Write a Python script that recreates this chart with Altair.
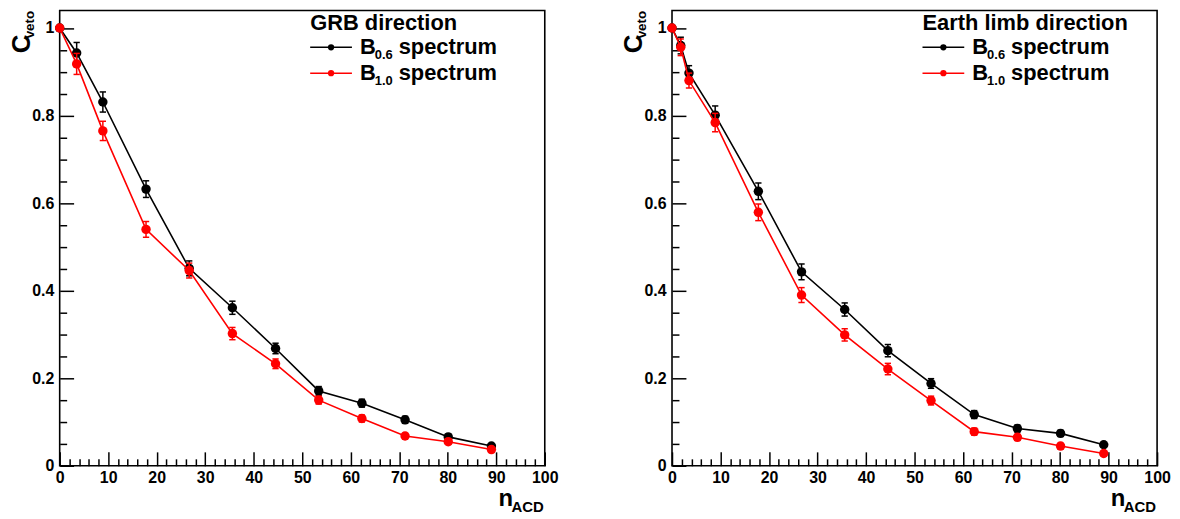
import altair as alt
import pandas as pd

FONT = "Liberation Sans"
BLACK = "#000000"
RED = "#ff0000"

# ---------------- data ----------------
grb_n = [0, 3.5, 8.9, 17.8, 26.7, 35.6, 44.5, 53.4, 62.3, 71.2, 80.1, 89.0]
grb_b06 = [1.0, 0.943, 0.831, 0.632, 0.451, 0.361, 0.268, 0.171, 0.143, 0.105, 0.066, 0.045]
grb_b06_err = [0.0, 0.024, 0.023, 0.019, 0.017, 0.015, 0.012, 0.010, 0.009, 0.008, 0.006, 0.005]
grb_b10 = [1.0, 0.918, 0.765, 0.540, 0.446, 0.302, 0.233, 0.150, 0.108, 0.068, 0.055, 0.037]
grb_b10_err = [0.0, 0.024, 0.022, 0.018, 0.017, 0.014, 0.011, 0.009, 0.008, 0.006, 0.006, 0.004]

limb_n = [0, 1.8, 3.5, 8.9, 17.8, 26.7, 35.6, 44.5, 53.4, 62.3, 71.2, 80.1, 89.0]
limb_b06 = [1.0, 0.960, 0.897, 0.801, 0.627, 0.443, 0.357, 0.263, 0.188, 0.117, 0.085, 0.074, 0.048]
limb_b06_err = [0.0, 0.019, 0.017, 0.021, 0.019, 0.018, 0.015, 0.014, 0.011, 0.009, 0.008, 0.007, 0.005]
limb_b10 = [1.0, 0.956, 0.880, 0.784, 0.579, 0.390, 0.299, 0.221, 0.149, 0.078, 0.065, 0.045, 0.028]
limb_b10_err = [0.0, 0.019, 0.017, 0.021, 0.019, 0.017, 0.014, 0.013, 0.010, 0.008, 0.007, 0.006, 0.004]

headers = ["GRB direction", "Earth limb direction"]
legend_subs = ["0.6", "1.0"]
legend_word = "spectrum"
legend_main = "B"

X_MAJOR = [0, 10, 20, 30, 40, 50, 60, 70, 80, 90, 100]
X_MINOR = [2, 4, 6, 8, 12, 14, 16, 18, 22, 24, 26, 28, 32, 34, 36, 38, 42, 44, 46, 48,
           52, 54, 56, 58, 62, 64, 66, 68, 72, 74, 76, 78, 82, 84, 86, 88, 92, 94, 96, 98]
Y_MAJOR = [0, 0.2, 0.4, 0.6, 0.8, 1.0]
Y_MINOR = [0.05, 0.1, 0.15, 0.25, 0.3, 0.35, 0.45, 0.5, 0.55, 0.65, 0.7, 0.75,
           0.85, 0.9, 0.95]

W, H = 488, 458
XS = alt.Scale(domain=[0, 100], nice=False, zero=False)
YS = alt.Scale(domain=[0, 1.04], nice=False, zero=False)
ONE = pd.DataFrame({"k": [0]})


def major_axis(orient, values, pad, fmt):
    return alt.Axis(orient=orient, values=values, offset=-14, tickSize=14, tickWidth=1.5,
                    tickColor=BLACK, domain=False, grid=False, labelFont=FONT,
                    labelFontWeight="bold", labelFontSize=16, labelColor=BLACK,
                    labelPadding=pad, labelFlush=False, labelOverlap=False,
                    format=fmt, title=None)


def minor_axis(orient, values):
    return alt.Axis(orient=orient, values=values, offset=-7, tickSize=7, tickWidth=1.5,
                    tickColor=BLACK, domain=False, grid=False, labels=False, title=None)


def txt(s, x, y, size, angle=0, align="left"):
    return alt.Chart(ONE).mark_text(
        text=s, font=FONT, fontWeight="bold", fontSize=size, angle=angle,
        align=align, baseline="alphabetic", color=BLACK
    ).encode(x=alt.value(x), y=alt.value(y))


def frame(n, vals, errs):
    return pd.DataFrame({
        "n": n, "c": vals,
        "lo": [v - e for v, e in zip(vals, errs)],
        "hi": [v + e for v, e in zip(vals, errs)],
    })


def series(df, color, with_axes):
    if with_axes:
        xa1 = major_axis("bottom", X_MAJOR, 4, "d")
        ya1 = major_axis("left", Y_MAJOR, 6, "~g")
        xa2, ya2 = minor_axis("bottom", X_MINOR), minor_axis("left", Y_MINOR)
    else:
        xa1 = ya1 = xa2 = ya2 = None
    base = alt.Chart(df)
    line = base.mark_line(color=color, strokeWidth=1.6).encode(
        x=alt.X("n:Q", scale=XS, axis=xa1), y=alt.Y("c:Q", scale=YS, axis=ya1))
    err = base.mark_rule(color=color, strokeWidth=1.5).encode(
        x=alt.X("n:Q", scale=XS, axis=xa2), y=alt.Y("lo:Q", scale=YS, axis=ya2),
        y2=alt.Y2("hi:Q"))
    cap_lo = base.mark_point(shape="M-1,0L1,0", filled=False, size=40, strokeWidth=1.5,
                             color=color, opacity=1).encode(
        x=alt.X("n:Q", scale=XS, axis=None), y=alt.Y("lo:Q", scale=YS, axis=None))
    cap_hi = base.mark_point(shape="M-1,0L1,0", filled=False, size=40, strokeWidth=1.5,
                             color=color, opacity=1).encode(
        x=alt.X("n:Q", scale=XS, axis=None), y=alt.Y("hi:Q", scale=YS, axis=None))
    pts = base.mark_circle(size=90, color=color, opacity=1).encode(
        x=alt.X("n:Q", scale=XS, axis=None), y=alt.Y("c:Q", scale=YS, axis=None))
    return [line, err, cap_lo, cap_hi, pts]


def legend(header):
    L = [txt(header, 252, 20, 22)]
    for i, (color, sub) in enumerate([(BLACK, legend_subs[0]), (RED, legend_subs[1])]):
        yl = 37 + 26 * i
        L.append(alt.Chart(ONE).mark_rule(color=color, strokeWidth=1.5).encode(
            x=alt.value(252), x2=alt.value(294), y=alt.value(yl)))
        L.append(alt.Chart(ONE).mark_circle(color=color, opacity=1, size=40).encode(
            x=alt.value(273), y=alt.value(yl)))
        L.append(txt(legend_main, 302, yl + 7, 22))
        L.append(txt(sub, 317, yl + 12, 13))
        L.append(txt(legend_word, 341, yl + 7, 22))
    return L


def titles():
    return [
        txt("C", -30, 43, 26, angle=270),
        txt("veto", -26, 28, 13.5, angle=270),
        txt("ACD", 487, 505, 15, align="right"),
        txt("n", 456, 498, 24, align="right"),
    ]


def panel(n, b06, e06, b10, e10, header):
    layers = series(frame(n, b06, e06), BLACK, True) + series(frame(n, b10, e10), RED, False)
    layers += legend(header) + titles()
    return alt.layer(*layers).resolve_axis(x="independent", y="independent").properties(
        width=W, height=H)


left = panel(grb_n, grb_b06, grb_b06_err, grb_b10, grb_b10_err, headers[0])
right = panel(limb_n, limb_b06, limb_b06_err, limb_b10, limb_b10_err, headers[1])

chart = alt.hconcat(left, right, spacing=61).properties(padding=0).configure_view(
    stroke=BLACK, strokeWidth=1.6)

chart.save("out.html", embed_options={"renderer": "svg", "actions": False})
